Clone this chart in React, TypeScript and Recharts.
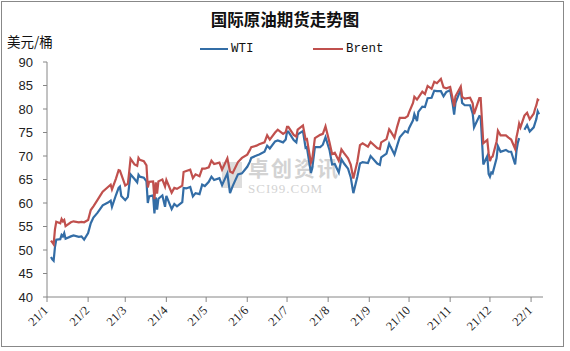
import { LineChart, Line, XAxis, YAxis } from 'recharts';

// trading days shown in the chart (yyyy-mm-dd)
const dates = [
  '2021-01-04', '2021-01-05', '2021-01-06', '2021-01-07', '2021-01-08', '2021-01-11', '2021-01-12', '2021-01-13',
  '2021-01-14', '2021-01-15', '2021-01-19', '2021-01-21', '2021-01-25', '2021-01-27', '2021-01-29',
  '2021-02-01', '2021-02-03', '2021-02-05', '2021-02-08', '2021-02-10', '2021-02-12', '2021-02-16', '2021-02-18',
  '2021-02-19', '2021-02-22', '2021-02-24', '2021-02-25', '2021-02-26',
  '2021-03-01', '2021-03-03', '2021-03-04', '2021-03-05', '2021-03-08', '2021-03-10', '2021-03-11', '2021-03-12',
  '2021-03-15', '2021-03-17', '2021-03-18', '2021-03-19', '2021-03-22', '2021-03-23', '2021-03-24', '2021-03-25',
  '2021-03-26', '2021-03-29', '2021-03-31',
  '2021-04-01', '2021-04-05', '2021-04-07', '2021-04-09', '2021-04-13', '2021-04-14', '2021-04-16', '2021-04-19',
  '2021-04-21', '2021-04-23', '2021-04-26', '2021-04-28', '2021-04-30',
  '2021-05-03', '2021-05-05', '2021-05-07', '2021-05-11', '2021-05-13', '2021-05-17', '2021-05-19', '2021-05-21',
  '2021-05-25', '2021-05-28',
  '2021-06-01', '2021-06-03', '2021-06-04', '2021-06-08', '2021-06-10', '2021-06-14', '2021-06-16', '2021-06-18',
  '2021-06-22', '2021-06-24', '2021-06-28', '2021-06-30',
  '2021-07-01', '2021-07-02', '2021-07-06', '2021-07-08', '2021-07-09', '2021-07-13', '2021-07-15', '2021-07-16',
  '2021-07-19', '2021-07-20', '2021-07-22', '2021-07-26', '2021-07-28', '2021-07-30',
  '2021-08-02', '2021-08-04', '2021-08-06', '2021-08-09', '2021-08-11', '2021-08-13', '2021-08-16', '2021-08-18',
  '2021-08-20', '2021-08-23', '2021-08-25', '2021-08-27', '2021-08-31',
  '2021-09-02', '2021-09-07', '2021-09-09', '2021-09-10', '2021-09-14', '2021-09-16', '2021-09-17', '2021-09-20',
  '2021-09-22', '2021-09-24', '2021-09-28', '2021-09-30',
  '2021-10-01', '2021-10-04', '2021-10-05', '2021-10-07', '2021-10-08', '2021-10-11', '2021-10-13', '2021-10-15',
  '2021-10-18', '2021-10-20', '2021-10-22', '2021-10-25', '2021-10-27', '2021-10-29',
  '2021-11-01', '2021-11-03', '2021-11-04', '2021-11-05', '2021-11-09', '2021-11-10', '2021-11-12', '2021-11-16',
  '2021-11-18', '2021-11-19', '2021-11-23', '2021-11-24', '2021-11-26', '2021-11-29', '2021-11-30',
  '2021-12-01', '2021-12-02', '2021-12-03', '2021-12-06', '2021-12-07', '2021-12-09', '2021-12-13', '2021-12-15',
  '2021-12-17', '2021-12-20', '2021-12-21', '2021-12-22', '2021-12-23', '2021-12-24', '2021-12-27', '2021-12-29',
  '2021-12-31',
  '2022-01-03', '2022-01-04', '2022-01-05', '2022-01-06', '2022-01-07',
];

const wti: (number | null)[] = [
  48.5, 48.0, 47.7, 50.6, 52.2, 52.3, 53.2, 52.9, 53.6, 52.4, 52.9, 53.1, 52.8, 52.9, 52.2,
  53.6, 55.7, 56.9, 57.9, 58.7, 59.5, 60.1, 60.5, 59.2, 61.7, 63.2, 63.5, 61.5,
  60.6, 61.3, 63.8, 66.1, 65.1, 64.4, 66.0, 65.6, 65.4, 64.6, 60.0, 61.4, 61.6, 57.8, 61.2, 58.6, 60.9, 61.6, 59.2,
  61.5, 58.7, 59.8, 59.3, 60.2, 63.2, 63.1, 63.4, 61.4, 62.1, 61.9, 63.9, 63.6,
  64.5, 65.6, 64.9, 65.3, 63.8, 66.3, 62.1, 63.6, 66.1, 66.3,
  67.7, 68.8, 69.6, 70.1, 70.3, 70.9, 72.2, 71.6, 73.1, 73.3, 72.9, 73.5,
  75.2, 75.2, 73.4, 72.9, 74.6, 75.3, 71.7, 71.8, 66.4, 67.4, 71.9, 71.9, 72.4, 74.0,
  71.3, 68.2, 68.3, 66.5, 69.3, 68.4, 67.3, 65.5, 62.1, 65.6, 68.4, 68.7, 68.5,
  70.0, 68.4, 68.1, 69.7, 70.5, 72.6, 72.0, 70.3, 72.2, 74.0, 75.3, 75.0,
  75.9, 77.6, 78.9, 77.4, 79.4, 80.5, 80.4, 82.3, 82.4, 83.9, 83.8, 83.8, 82.7, 83.6,
  84.0, 80.9, 78.8, 81.3, 84.2, 81.3, 80.8, 80.8, 79.0, 76.1, 78.5, 78.4, 68.2, 70.0, 66.2,
  65.6, 66.5, 66.3, 69.5, 72.1, 70.9, 71.3, 70.9, 70.9, 68.2, 71.1, 72.8, 73.8, null, 75.6, 76.6, 75.2,
  76.1, 77.0, 77.9, 79.5, 78.9,
];

const brent: number[] = [
  52.0, 51.6, 51.2, 54.4, 56.0, 55.7, 56.6, 56.1, 56.4, 55.1, 55.9, 56.1, 55.9, 56.0, 55.9,
  56.4, 58.5, 59.3, 60.6, 61.5, 62.4, 63.4, 63.9, 62.9, 65.2, 67.0, 66.9, 66.1,
  63.7, 64.1, 66.7, 69.4, 68.2, 67.9, 69.6, 69.2, 68.9, 68.0, 63.3, 64.5, 64.6, 60.8, 64.4, 62.0, 64.6, 65.0, 63.5,
  64.9, 62.2, 63.2, 63.0, 63.7, 66.6, 66.8, 67.1, 65.3, 66.1, 65.7, 67.3, 67.3,
  67.6, 69.0, 68.3, 68.6, 67.1, 69.5, 66.7, 66.4, 68.7, 69.6,
  70.3, 71.3, 71.9, 72.2, 72.5, 72.9, 74.4, 73.5, 75.0, 75.6, 74.7, 75.1,
  76.2, 76.2, 74.5, 74.1, 75.6, 76.5, 73.5, 73.6, 68.6, 69.4, 73.8, 74.5, 74.7, 76.3,
  72.9, 70.4, 70.7, 69.0, 71.4, 70.6, 69.5, 68.2, 65.2, 68.8, 72.3, 72.7, 72.0,
  73.0, 71.7, 71.5, 72.9, 73.6, 75.7, 75.3, 73.9, 76.2, 78.1, 78.1, 78.5,
  79.3, 81.3, 82.6, 82.0, 82.4, 83.7, 83.2, 84.9, 84.3, 85.8, 85.5, 86.4, 84.6, 84.4,
  84.7, 82.0, 80.5, 82.7, 84.8, 82.6, 82.2, 82.4, 81.2, 78.9, 82.3, 82.3, 72.7, 73.4, 70.6,
  68.9, 69.7, 69.9, 73.1, 75.4, 74.4, 74.4, 73.9, 73.5, 71.5, 74.0, 75.3, 76.9, 76.1, 78.6, 79.2, 77.8,
  79.0, 80.0, 80.8, 82.0, 81.8,
];

const monthTicks = [
  '2021-01-01', '2021-02-01', '2021-03-01', '2021-04-01', '2021-05-01', '2021-06-01', '2021-07-01',
  '2021-08-01', '2021-09-01', '2021-10-01', '2021-11-01', '2021-12-01', '2022-01-01',
];
const yTicks = [40, 45, 50, 55, 60, 65, 70, 75, 80, 85, 90];

const toT = (s: string) => Date.parse(s + 'T00:00:00Z');
const DAY = 86400000;

const data = dates.map((d, i) => ({ t: toT(d), wti: wti[i], brent: brent[i] }));

const fmtTick = (t: number) => {
  const d = new Date(t);
  return `${String(d.getUTCFullYear()).slice(2)}/${d.getUTCMonth() + 1}`;
};

const BLUE = '#336da6';
const RED = '#c0504d';
const AXIS = '#868686';

const XTick = (props: any) => {
  const { x, y, payload } = props;
  return (
    <text
      x={x + 2}
      y={y + 7}
      transform={`rotate(-45 ${x + 2} ${y + 7})`}
      textAnchor="end"
      fontSize={12.5}
      fontFamily="'Liberation Serif', serif"
      fill="#222"
    >
      {fmtTick(payload.value)}
    </text>
  );
};

export default function App() {
  return (
    <div style={{ position: 'relative', width: 570, height: 351, background: '#fff' }}>
      <style>{'body{margin:0}'}</style>
      <div
        style={{
          position: 'absolute', left: 1, top: 1, width: 561, height: 344,
          border: '1px solid #888', boxSizing: 'content-box',
        }}
      />
      <div
        style={{
          position: 'absolute', left: 0, top: 7, width: 570, textAlign: 'center',
          fontFamily: "'Noto Sans CJK SC', sans-serif", fontWeight: 700, fontSize: 16.5, color: '#111',
        }}
      >
        国际原油期货走势图
      </div>
      <div
        style={{
          position: 'absolute', left: 7, top: 31,
          fontFamily: "'Noto Sans CJK SC', sans-serif", fontSize: 13.5, color: '#111',
        }}
      >
        美元/桶
      </div>
      {/* legend */}
      <div
        style={{
          position: 'absolute', left: 200, top: 42, display: 'flex', alignItems: 'center',
          fontFamily: "'Liberation Mono', monospace", fontSize: 12.5, color: '#111',
        }}
      >
        <span style={{ display: 'inline-block', width: 28, height: 2.5, background: BLUE, marginRight: 3 }} />
        <span style={{ width: 82 }}>WTI</span>
        <span style={{ display: 'inline-block', width: 30, height: 2.5, background: RED, marginRight: 3 }} />
        <span>Brent</span>
      </div>
      {/* watermark */}
      <div style={{ position: 'absolute', left: 222, top: 158, opacity: 0.5 }}>
        <div style={{ position: 'absolute', left: 0, top: 4, width: 20, height: 26, background: '#bdbdbd' }} />
        <div
          style={{
            position: 'absolute', left: 26, top: -4, whiteSpace: 'nowrap', color: '#a8a8a8', lineHeight: '26px',
            fontFamily: "'Noto Sans CJK SC', sans-serif", fontSize: 21, fontWeight: 700, letterSpacing: 2,
          }}
        >
          卓创资讯
        </div>
        <div
          style={{
            position: 'absolute', left: 26, top: 24, whiteSpace: 'nowrap', color: '#a8a8a8', lineHeight: '13px',
            fontFamily: "'Liberation Serif', serif", fontSize: 13, letterSpacing: 1,
          }}
        >
          SCI99.COM
        </div>
      </div>
      <div style={{ position: 'absolute', left: 0, top: 0 }}>
        <LineChart width={570} height={351} data={data} margin={{ top: 62, right: 27, left: 17, bottom: 14 }}>
          <XAxis
            dataKey="t"
            type="number"
            scale="time"
            domain={[toT('2021-01-01'), toT('2021-01-01') + 374 * DAY]}
            ticks={monthTicks.map(toT)}
            tick={<XTick />}
            height={40}
            stroke={AXIS}
            tickSize={5}
            interval={0}
          />
          <YAxis
            domain={[40, 90]}
            ticks={yTicks}
            width={30}
            stroke={AXIS}
            tickSize={4}
            tickMargin={10}
            interval={0}
            tick={{ fill: '#222', fontSize: 13, fontFamily: "'Liberation Sans', sans-serif" }}
          />
          <Line
            type="linear"
            dataKey="wti"
            stroke={BLUE}
            strokeWidth={2.2}
            dot={false}
            connectNulls={false}
            isAnimationActive={false}
          />
          <Line
            type="linear"
            dataKey="brent"
            stroke={RED}
            strokeWidth={2.2}
            dot={false}
            isAnimationActive={false}
          />
        </LineChart>
      </div>
    </div>
  );
}
